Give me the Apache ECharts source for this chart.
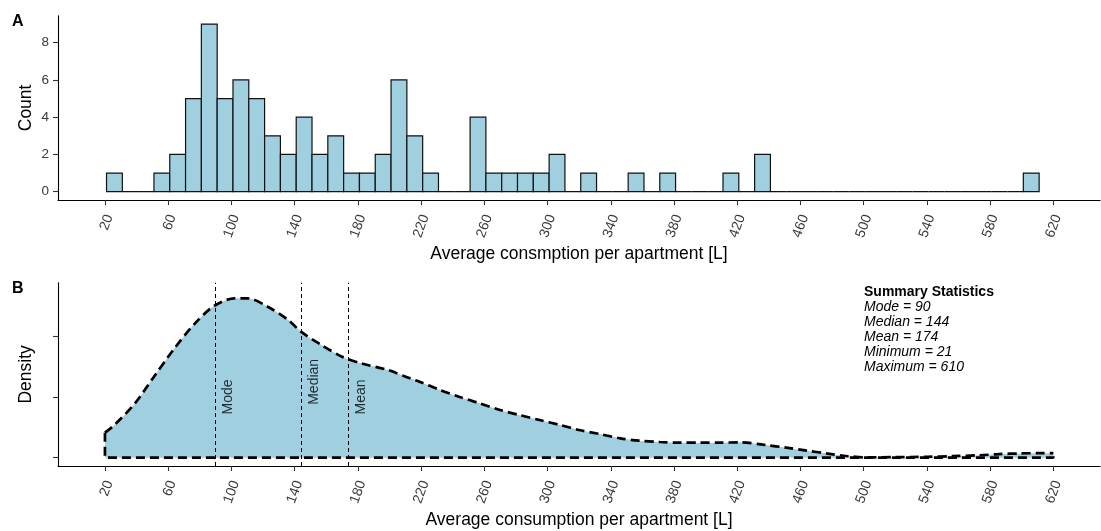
<!DOCTYPE html>
<html><head><meta charset="utf-8">
<script src="https://cdn.jsdelivr.net/npm/echarts/dist/echarts.min.js"></script>
<style>html,body{margin:0;padding:0;background:#fff}#c{width:1101px;height:531px}</style>
</head><body><div id="c"></div>
<script>
// ---------- data ----------
const binStarts = [21,31,41,51,61,71,81,91,101,111,121,131,141,151,161,171,181,191,201,211,221,231,241,251,261,271,281,291,301,311,321,331,341,351,361,371,381,391,401,411,421,431,441,451,461,471,481,491,501,511,521,531,541,551,561,571,581,591,601];
const binCounts = [1,0,0,1,2,5,9,5,6,5,3,2,4,2,3,1,1,2,6,3,1,0,0,4,1,1,1,1,2,0,1,0,0,1,0,1,0,0,0,1,0,2,0,0,0,0,0,0,0,0,0,0,0,0,0,0,0,0,1];
const binWidth = 10;
const xTicks = [20,60,100,140,180,220,260,300,340,380,420,460,500,540,580,620];
const countTicks = [0,2,4,6,8];
const densityX = [20,26,39,51,64,77,89,102,110,123,136,144,157,170,182,199,213,219,232,244,257,270,282,295,308,320,333,346,358,371,384,396,409,422,438,451,464,476,489,502,520,540,556,573,586,599,610,620];
const densityY = [0.000824,0.001077,0.001792,0.002669,0.003605,0.004428,0.004998,0.005252,0.005252,0.004975,0.004537,0.004152,0.003713,0.003328,0.003110,0.002890,0.002616,0.002504,0.002231,0.002010,0.001792,0.001572,0.001407,0.001242,0.001077,0.000913,0.000781,0.000639,0.000560,0.000517,0.000494,0.000494,0.000494,0.000507,0.000418,0.000330,0.000231,0.000145,0.000056,0.000010,0.000020,0.000030,0.000050,0.000080,0.000120,0.000140,0.000150,0.000150];
const densityTicks = [0,0.002,0.004];
const statNames = ['Mode','Median','Mean'];
const statValues = [90,144,174];
const statLabelY = [0.002,0.0025,0.002];
const summaryTitle = 'Summary Statistics';
const summaryLines = ['Mode = 90','Median = 144','Mean = 174','Minimum = 21','Maximum = 610'];

// ---------- chart ----------
const FONT = '"Liberation Sans", Arial, Helvetica, sans-serif';
const FILL = '#A0CFE0';
const chart = echarts.init(document.getElementById('c'), null, {renderer:'canvas'});

function xAxisCfg(grid, name){
  return {
    gridIndex: grid, type:'value', min:-9.7, max:649.5,
    axisLine:{show:true, onZero:false, lineStyle:{color:'#000', width:1.1}},
    axisTick:{show:true, customValues:xTicks, length:5, lineStyle:{color:'#333', width:1.1}},
    axisLabel:{show:true, customValues:xTicks, rotate:70, margin:13.5, fontSize:14, color:'#3a3a3a', fontFamily:FONT,
      verticalAlign:'top', lineHeight:9},
    splitLine:{show:false},
    name:name, nameLocation:'middle', nameGap:45, nameMoveOverlap:false,
    nameTextStyle:{fontSize:17.5, color:'#000', fontFamily:FONT}
  };
}

const option = {
  animation:false,
  backgroundColor:'#fff',
  grid:[
    {left:58, right:1, top:15.7, height:184.4},
    {left:58, right:1, top:282.7, height:183.3}
  ],
  xAxis:[
    xAxisCfg(0,'Average consmption per apartment [L]'),
    xAxisCfg(1,'Average consumption per apartment [L]')
  ],
  yAxis:[
    {gridIndex:0, type:'value', min:-0.45, max:9.45,
     axisLine:{show:true, onZero:false, lineStyle:{color:'#000', width:1.1}},
     axisTick:{show:true, customValues:countTicks, length:5, lineStyle:{color:'#333', width:1.1}},
     axisLabel:{show:true, customValues:countTicks, margin:9, fontSize:13.5, color:'#3a3a3a', fontFamily:FONT},
     splitLine:{show:false},
     name:'Count', nameLocation:'middle', nameGap:23, nameRotate:90, nameMoveOverlap:false,
     nameTextStyle:{fontSize:17.5, color:'#000', fontFamily:FONT}},
    {gridIndex:1, type:'value', min:-0.000273, max:0.005766,
     axisLine:{show:true, onZero:false, lineStyle:{color:'#000', width:1.1}},
     axisTick:{show:true, customValues:densityTicks, length:5, lineStyle:{color:'#333', width:1.1}},
     axisLabel:{show:false, customValues:densityTicks},
     splitLine:{show:false},
     name:'Density', nameLocation:'middle', nameGap:23, nameRotate:90, nameMoveOverlap:false,
     nameTextStyle:{fontSize:17.5, color:'#000', fontFamily:FONT}}
  ],
  graphic:[
    {type:'text', left:12, top:14, style:{text:'A', font:'bold 16px '+FONT, fill:'#000'}},
    {type:'text', left:12, top:281, style:{text:'B', font:'bold 16px '+FONT, fill:'#000'}},
    {type:'text', left:864, top:285.5, style:{
      text:['{b|'+summaryTitle+'}'].concat(summaryLines.map(s=>'{i|'+s+'}')).join('\n'),
      rich:{
        b:{fontWeight:'bold', fontSize:14, lineHeight:15, fontFamily:FONT, fill:'#000'},
        i:{fontStyle:'italic', fontSize:14, lineHeight:15, fontFamily:FONT, fill:'#000'}
      }
    }}
  ],
  series:[
    {
      type:'custom', xAxisIndex:0, yAxisIndex:0,
      data: binStarts.map((s,i)=>[s, s+binWidth, binCounts[i]]),
      encode:{x:[0,1], y:2},
      renderItem:function(params, api){
        const p0 = api.coord([api.value(0), api.value(2)]);
        const p1 = api.coord([api.value(1), 0]);
        return {type:'rect', shape:{x:p0[0], y:p0[1], width:p1[0]-p0[0], height:p1[1]-p0[1]},
          style:{fill:FILL, stroke:'#111', lineWidth:1.2}};
      }
    },
    {
      type:'line', xAxisIndex:1, yAxisIndex:1,
      data: densityX.map((x,i)=>[x, densityY[i]]),
      smooth:0.3, symbol:'none',
      lineStyle:{width:0, opacity:0},
      areaStyle:{color:FILL, opacity:1},
      z:1,
      markLine:{
        silent:true, symbol:['none','none'],
        lineStyle:{type:[4,3], color:'#000', width:1},
        label:{show:false},
        data: statValues.map(v=>({xAxis:v}))
      }
    },
    {
      type:'line', xAxisIndex:1, yAxisIndex:1,
      data: densityX.map((x,i)=>[x, densityY[i]]),
      smooth:0.3, symbol:'none', z:3,
      lineStyle:{color:'#000', width:2.7, type:[9,5]}
    },
    {
      type:'line', xAxisIndex:1, yAxisIndex:1,
      data: [[densityX[0], densityY[0]],[densityX[0],0],[densityX[densityX.length-1],0],[densityX[densityX.length-1], densityY[densityY.length-1]]],
      symbol:'none', z:3,
      lineStyle:{color:'#000', width:2.7, type:[9,5]}
    },
    {
      type:'scatter', xAxisIndex:1, yAxisIndex:1,
      symbolSize:0, z:4,
      data: statValues.map((v,i)=>({value:[v, statLabelY[i]], name:statNames[i]})),
      label:{show:true, formatter:'{b}', rotate:90, position:'inside', offset:[0,13],
        fontSize:14, color:'#000', fontFamily:FONT}
    }
  ]
};
chart.setOption(option);
</script>
</body></html>
